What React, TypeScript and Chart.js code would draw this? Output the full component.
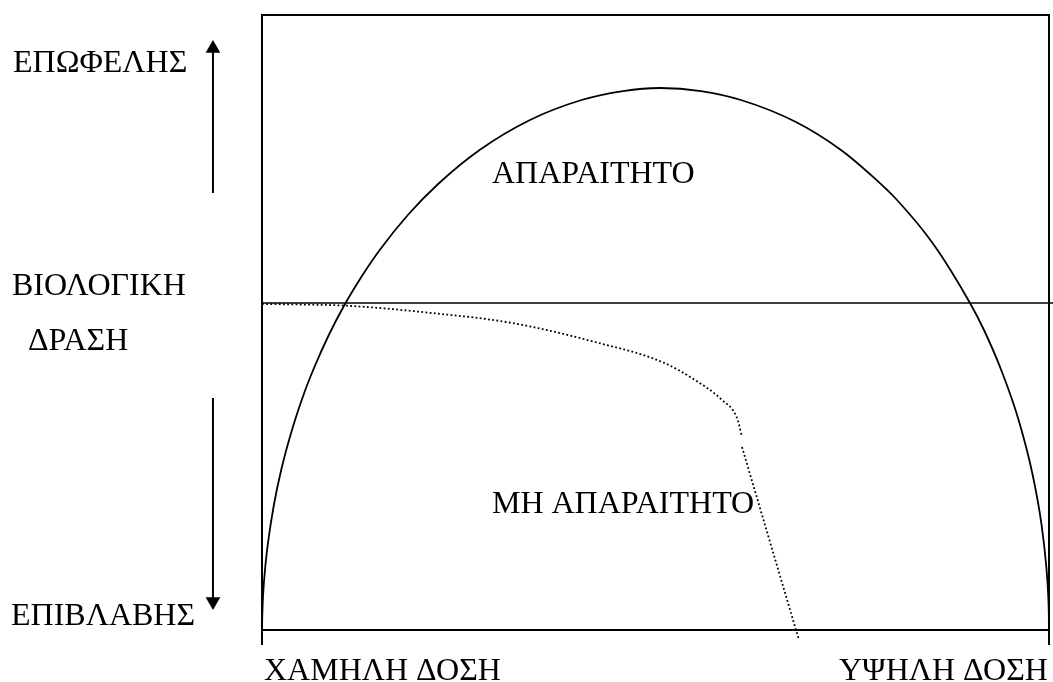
import React, { useEffect, useRef } from "react";
import { Chart, registerables } from "chart.js";

Chart.register(...registerables);

// Bell-shaped "biological action" curve (dose on x, action on y)
const curveX = [0, 0.04, 0.14, 0.44, 0.81, 1.51, 2.44, 3.81, 5.41, 6.61, 8.49, 10.62, 12.62, 14.96, 18.53, 22.38, 27.65, 34.05, 40.61, 45.88, 50.57, 55.78, 60.86, 67.85, 73.57, 77.38, 80.69, 85.39, 89.96, 91.74, 94.03, 96.14, 97.93, 99.06, 99.64, 99.9, 99.98, 100];
const curveY = [0, 2.44, 5.69, 10.57, 14.63, 20.33, 26.02, 32.52, 38.7, 42.6, 47.97, 53.17, 57.4, 61.79, 67.48, 72.52, 78.05, 82.93, 86.18, 87.64, 88.13, 87.64, 86.18, 82.6, 78.05, 73.98, 69.92, 62.6, 53.17, 48.78, 41.95, 34.15, 25.2, 17.07, 10.57, 5.69, 2.44, 0];

// Dotted curve bending down below the threshold
const dottedX = [0, 4.83, 10.8, 21.22, 31.77, 42.31, 50.83, 55.02, 58.45, 60.36, 61.0];
const dottedY = [53.0, 52.93, 52.73, 51.59, 49.92, 46.83, 43.58, 40.65, 37.4, 34.47, 31.38];

// Dotted straight drop
const dropX = [60.99, 68.23];
const dropY = [29.76, -1.63];

// Threshold (horizontal) line
const thresholdX = [0, 100.51];
const thresholdY = [53.17, 53.17];

// Frame
const frameX = [0, 0, 100, 100];
const frameY = [-2.44, 100, 100, -2.44];
const baseX = [0, 100];
const baseY = [0, 0];

// Arrows on the left
const arrowX = -6.23;
const upShaftY = [71.06, 94.3];
const upHeadY = 94.55;
const downShaftY = [37.72, 4.9];
const downHeadY = 4.63;

// Visible range of the drawing (whole canvas)
const xRange = [-33.29, 100.51];
const yRange = [-8.455, 102.44];

// Text labels
const labelTexts = ["ΕΠΩΦΕΛΗΣ", "ΒΙΟΛΟΓΙΚΗ", "ΔΡΑΣΗ", "ΕΠΙΒΛΑΒΗΣ", "ΑΠΑΡΑΙΤΗΤΟ", "ΜΗ ΑΠΑΡΑΙΤΗΤΟ", "ΧΑΜΗΛΗ ΔΟΣΗ", "ΥΨΗΛΗ ΔΟΣΗ"];
const labelX = [-31.64, -31.77, -29.73, -31.89, 29.22, 29.22, 0.25, 99.87];
const labelY = [90.73, 54.47, 45.53, 0.81, 72.68, 19.02, -8.13, -8.13];
const labelAlign = ["left", "left", "left", "left", "left", "left", "left", "right"];

const zip = (xs: number[], ys: number[]) => xs.map((x, i) => ({ x, y: ys[i] }));

const textPlugin = {
  id: "diagramTexts",
  afterDatasetsDraw(chart: any) {
    const { ctx, scales } = chart;
    const sx = scales.x;
    const sy = scales.y;
    ctx.save();
    ctx.font = '32px "Liberation Serif", "DejaVu Serif", serif';
    ctx.fillStyle = "#000";
    ctx.textBaseline = "alphabetic";
    labelTexts.forEach((t, i) => {
      ctx.textAlign = labelAlign[i] as CanvasTextAlign;
      ctx.fillText(t, sx.getPixelForValue(labelX[i]), sy.getPixelForValue(labelY[i]));
    });
    ctx.restore();
  },
};

export default function App() {
  const ref = useRef<HTMLCanvasElement | null>(null);

  useEffect(() => {
    if (!ref.current) return;
    const lineDs = (data: any[], extra: any = {}) => ({
      data,
      borderColor: "#000",
      backgroundColor: "#000",
      borderWidth: 1.8,
      pointRadius: 0,
      pointHoverRadius: 0,
      tension: 0,
      fill: false,
      clip: false,
      ...extra,
    });
    const chart = new Chart(ref.current, {
      type: "line",
      data: {
        datasets: [
          lineDs(zip(frameX, frameY), { borderWidth: 2 }),
          lineDs(zip(baseX, baseY), { borderWidth: 2 }),
          lineDs(zip(thresholdX, thresholdY), { borderWidth: 1.6 }),
          lineDs(zip(curveX, curveY), { cubicInterpolationMode: "monotone", borderWidth: 1.8 }),
          lineDs(zip(dottedX, dottedY), { cubicInterpolationMode: "monotone", borderWidth: 1.8, borderDash: [1.8, 2.4] }),
          lineDs(zip(dropX, dropY), { borderWidth: 1.8, borderDash: [1.8, 2.4] }),
          lineDs(zip([arrowX, arrowX], upShaftY), { borderWidth: 2 }),
          lineDs(zip([arrowX, arrowX], downShaftY), { borderWidth: 2 }),
          lineDs([{ x: arrowX, y: upHeadY }], {
            showLine: false,
            pointRadius: 8.5,
            pointHoverRadius: 8.5,
            pointStyle: "triangle",
            pointRotation: 0,
            pointBorderWidth: 0,
            pointBackgroundColor: "#000",
          }),
          lineDs([{ x: arrowX, y: downHeadY }], {
            showLine: false,
            pointRadius: 8.5,
            pointHoverRadius: 8.5,
            pointStyle: "triangle",
            pointRotation: 180,
            pointBorderWidth: 0,
            pointBackgroundColor: "#000",
          }),
        ],
      },
      options: {
        responsive: false,
        animation: false,
        devicePixelRatio: 1,
        layout: { padding: 0, autoPadding: false },
        scales: {
          x: { type: "linear", min: xRange[0], max: xRange[1], display: false },
          y: { type: "linear", min: yRange[0], max: yRange[1], display: false },
        },
        plugins: {
          legend: { display: false },
          tooltip: { enabled: false },
        },
        events: [],
      },
      plugins: [textPlugin],
    });
    return () => chart.destroy();
  }, []);

  return (
    <div style={{ position: "absolute", left: 0, top: 0, width: 1053, height: 682, background: "#fff" }}>
      <canvas ref={ref} width={1053} height={682} />
    </div>
  );
}
